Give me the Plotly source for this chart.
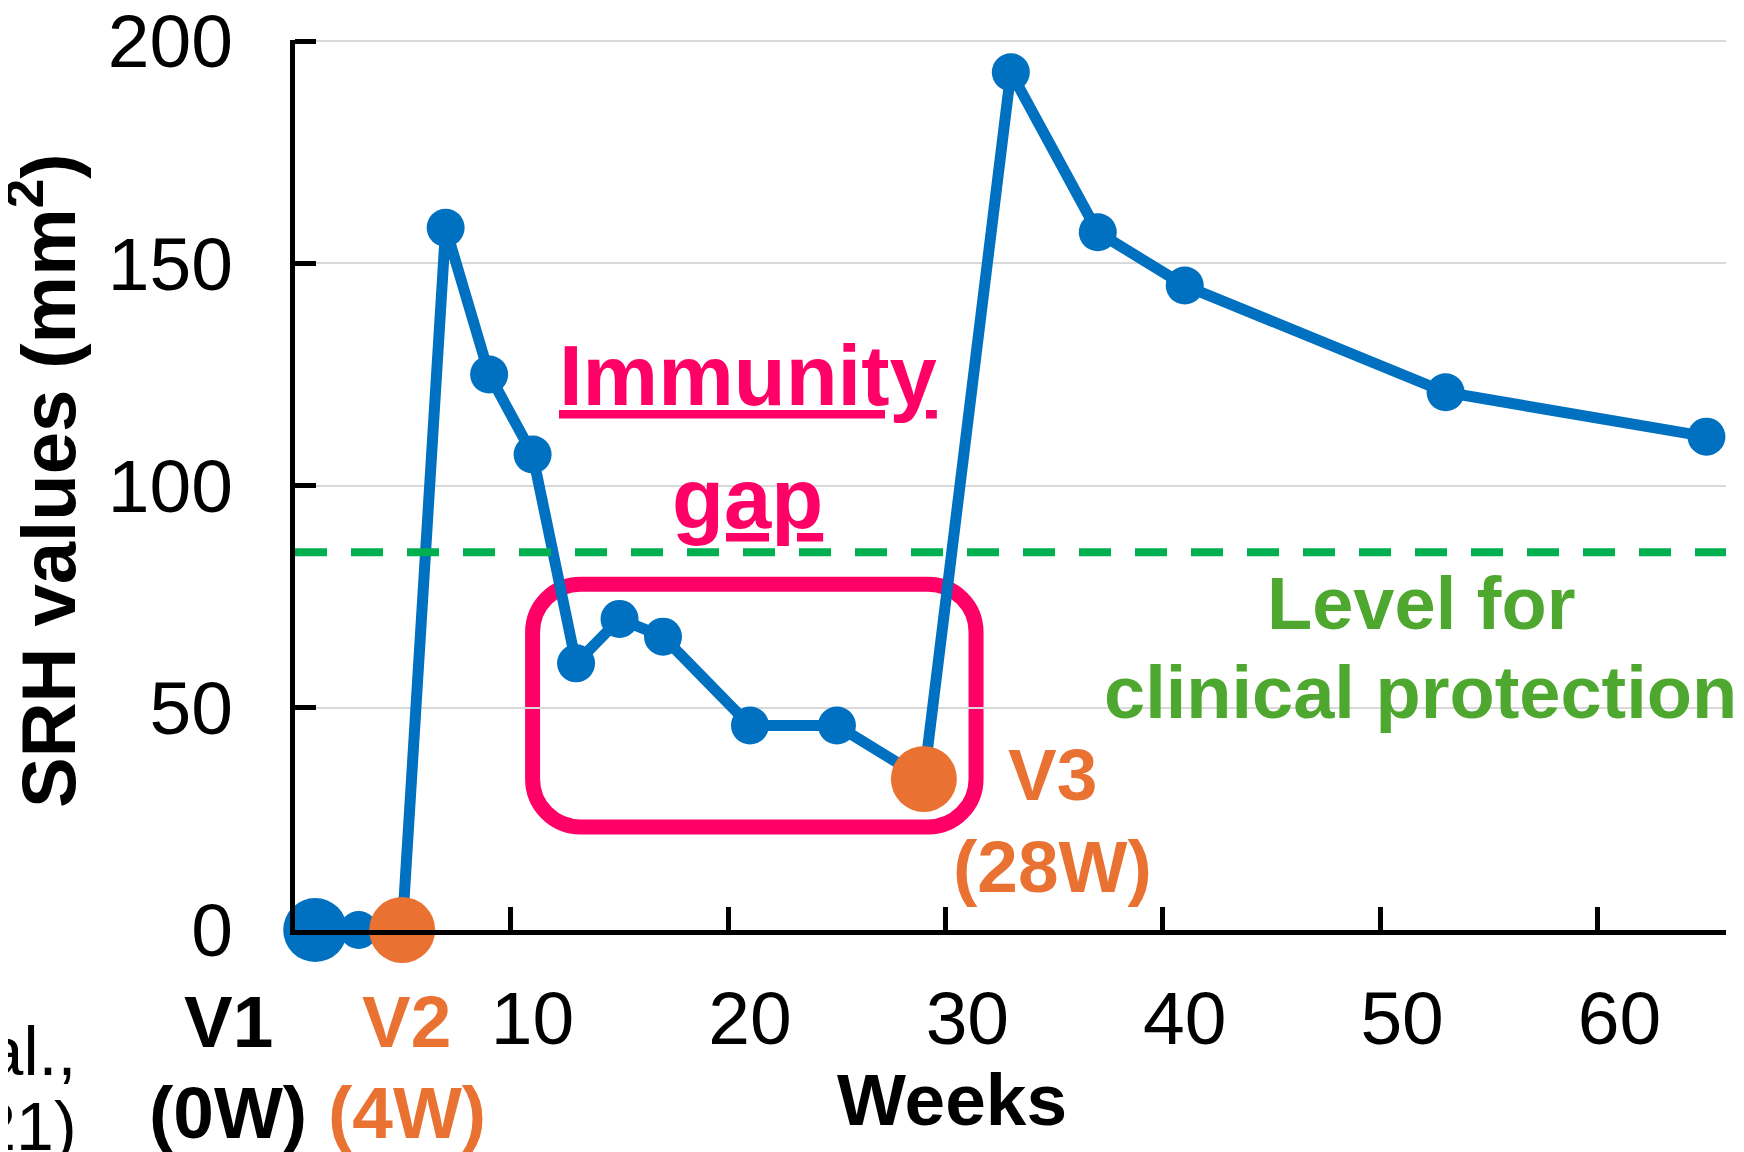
import plotly.graph_objects as go

# data
weeks = [0, 2, 4, 6, 8, 10, 12, 14, 16, 20, 24, 28, 32, 36, 40, 52, 64]
srh = [0, 0, 0, 158, 125, 107, 60, 70, 66, 46, 46, 34, 193, 157, 145, 121, 111]
vaccination_weeks = [0, 4, 28]
protection_level = 85
y_ticks = [0, 50, 100, 150, 200]
x_ticks = [10, 20, 30, 40, 50, 60]

blue = '#0070C0'
orange = '#E97132'
magenta = '#FF0066'
green_line = '#00B050'
green_text = '#4EA72E'
font_family = 'Arial, Liberation Sans, sans-serif'

W, H = 1744, 1152
# page body adds an 8px offset, so margins are set for where the plot should land on screen
offset = 8
plot_left, plot_right, plot_top, plot_bottom = 295, 1726, 40, 930
ml, mr = plot_left - offset, W - plot_right + offset
mt, mb = plot_top - offset, H - plot_bottom + offset
x_range = [-0.93, 64.9]
y_range = [0, 200.25]
px_x = (plot_right - plot_left) / (x_range[1] - x_range[0])
px_y = (plot_bottom - plot_top) / (y_range[1] - y_range[0])


def marker_style(w):
    if w == 0:
        return blue, 64
    if w in vaccination_weeks:
        return orange, 66
    return blue, 38


colors = [marker_style(w)[0] for w in weeks]
sizes = [marker_style(w)[1] for w in weeks]


def rounded_rect(x0, x1, y0, y1, r):
    rx, ry = r / px_x, r / px_y
    k = 1 - 0.5523
    p = f'M {x0 + rx},{y1} L {x1 - rx},{y1} '
    p += f'C {x1 - rx * k},{y1} {x1},{y1 - ry * k} {x1},{y1 - ry} '
    p += f'L {x1},{y0 + ry} '
    p += f'C {x1},{y0 + ry * k} {x1 - rx * k},{y0} {x1 - rx},{y0} '
    p += f'L {x0 + rx},{y0} '
    p += f'C {x0 + rx * k},{y0} {x0},{y0 + ry * k} {x0},{y0 + ry} '
    p += f'L {x0},{y1 - ry} '
    p += f'C {x0},{y1 - ry * k} {x0 + rx * k},{y1} {x0 + rx},{y1} Z'
    return p


fig = go.Figure()

# immunity gap box
fig.add_shape(type='path', path=rounded_rect(10.0, 30.4, 23.2, 77.8, 48),
              line=dict(color=magenta, width=15), layer='below')

fig.add_trace(go.Scatter(
    x=weeks, y=srh, mode='lines+markers', showlegend=False, hoverinfo='none',
    cliponaxis=False,
    line=dict(color=blue, width=11),
    marker=dict(color=colors, size=sizes, line=dict(width=0), opacity=1)
))

# protection level
fig.add_shape(type='line', xref='paper', x0=0, x1=1, y0=protection_level, y1=protection_level,
              line=dict(color=green_line, width=8, dash='32px,24px'))


def label(text, x, y, color, size=73, bold=True):
    t = f'<b>{text}</b>' if bold else text
    fig.add_annotation(text=t, x=x, y=y, showarrow=False,
                       font=dict(family=font_family, size=size, color=color))


def below_axis(text, color, y_px, x=None, x_px=None, size=73, bold=True, xanchor='center'):
    # text placed below the plot, y_px / x_px are screen positions
    t = f'<b>{text}</b>' if bold else text
    kw = dict(xref='x', x=x) if x is not None else dict(xref='paper', x=0, xshift=x_px - plot_left)
    fig.add_annotation(text=t, yref='paper', y=0, yshift=-(y_px - plot_bottom), yanchor='middle',
                       xanchor=xanchor, showarrow=False,
                       font=dict(family=font_family, size=size, color=color), **kw)


label('V3', 33.9, 35.0, orange)
label('(28W)', 33.9, 14.2, orange)
label('<u>Immunity</u>', 19.9, 124.7, magenta, size=85)
label('<u>gap</u>', 19.9, 97.2, magenta, size=85)
label('Level for', 50.86, 73.5, green_text, size=74)
label('clinical protection', 50.86, 53.5, green_text, size=74)

below_axis('V1', 'black', 1021, x_px=228)
below_axis('(0W)', 'black', 1112, x_px=228)
below_axis('V2', orange, 1021, x=4.2)
below_axis('(4W)', orange, 1112, x=4.2)
below_axis('Weeks', 'black', 1099, x_px=952)
below_axis('et al.,', 'black', 1051, x_px=78, size=68, bold=False, xanchor='right')
below_axis('(2021)', 'black', 1126, x_px=79, size=68, bold=False, xanchor='right')

fig.add_annotation(text='<b>SRH values (mm<sup>2</sup>)</b>', xref='paper', yref='paper', x=0,
                   xshift=-252, y=(plot_bottom - 481) / (plot_bottom - plot_top), textangle=-90,
                   xanchor='center', yanchor='middle', showarrow=False,
                   font=dict(family=font_family, size=76, color='black'))

fig.update_xaxes(
    range=x_range, showgrid=False, zeroline=False, automargin=False,
    showline=True, linecolor='black', linewidth=5,
    tickmode='array', tickvals=x_ticks, ticks='',
    ticklabelstandoff=19, ticklabeloverflow='allow',
    tickfont=dict(family=font_family, size=75, color='black'),
    minor=dict(tickmode='array', tickvals=[t - 1 for t in x_ticks], ticks='inside',
               ticklen=23, tickwidth=5, tickcolor='black', showgrid=False),
)
fig.update_yaxes(
    range=y_range, showgrid=True, gridcolor='#D9D9D9', gridwidth=2, zeroline=False,
    automargin=False,
    showline=True, linecolor='black', linewidth=5,
    tickmode='array', tickvals=y_ticks, ticks='inside', ticklen=21, tickwidth=5, tickcolor='black',
    ticklabelstandoff=42, ticklabeloverflow='allow',
    tickfont=dict(family=font_family, size=75, color='black'),
)

fig.update_layout(
    width=W, height=H,
    margin=dict(l=ml, r=mr, t=mt, b=mb),
    paper_bgcolor='white', plot_bgcolor='white',
    font_family=font_family,
)

fig.write_html('out.html')
